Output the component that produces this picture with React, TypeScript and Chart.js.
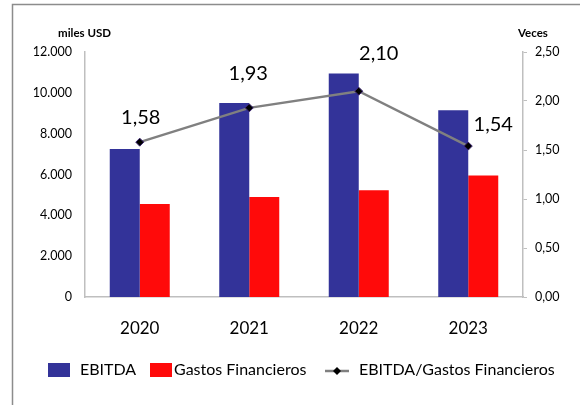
import React, { useEffect, useRef } from "react";
import { Chart, registerables } from "chart.js";
Chart.register(...registerables);

const years = ["2020", "2021", "2022", "2023"];
const ebitda = [7250, 9500, 10950, 9150];
const gastos = [4550, 4900, 5230, 5950];
const ratio = [1.58, 1.93, 2.1, 1.54];
const seriesNames = ["EBITDA", "Gastos Financieros", "EBITDA/Gastos Financieros"];
const leftTitle = "miles USD";
const rightTitle = "Veces";

const FONT = "Lato, 'Open Sans', sans-serif";
const BLUE = "#333399";
const RED = "#FF0A0A";
const GREY_LINE = "#808080";
const AXIS = "#BFBFBF";

const fmtLeft = (v: number) => String(v).replace(/\B(?=(\d{3})+(?!\d))/g, ".");
const fmtRight = (v: number) => v.toFixed(2).replace(".", ",");

const labelOffsets = [
  [1, -25],
  [-1, -34],
  [20, -38],
  [25, -22],
];

const decor = {
  id: "decor",
  beforeDraw(chart: any) {
    const ctx = chart.ctx;
    ctx.save();
    ctx.fillStyle = "#fff";
    ctx.fillRect(0, 0, chart.width, chart.height);
    ctx.strokeStyle = "#8c8c8c";
    ctx.lineWidth = 1.5;
    ctx.beginPath();
    ctx.moveTo(12.5, chart.height);
    ctx.lineTo(12.5, 4.5);
    ctx.lineTo(chart.width, 4.5);
    ctx.stroke();
    ctx.restore();
  },
  afterDatasetsDraw(chart: any) {
    const ctx = chart.ctx;
    const meta = chart.getDatasetMeta(0);
    ctx.save();
    ctx.fillStyle = "#000";
    ctx.font = `20px ${FONT}`;
    ctx.textAlign = "center";
    ctx.textBaseline = "middle";
    meta.data.forEach((pt: any, i: number) => {
      const [dx, dy] = labelOffsets[i];
      ctx.fillText(fmtRight(ratio[i]), pt.x + dx, pt.y + dy);
    });
    ctx.restore();
  },
  afterDraw(chart: any) {
    const ctx = chart.ctx;
    ctx.save();
    ctx.fillStyle = "#000";
    ctx.textBaseline = "middle";
    ctx.font = `bold 11.5px ${FONT}`;
    ctx.textAlign = "left";
    ctx.fillText(leftTitle, 58, 33);
    ctx.fillText(rightTitle, 518, 33);

    // legend
    const ly = 370;
    ctx.font = `16px ${FONT}`;
    ctx.fillStyle = BLUE;
    ctx.fillRect(48, ly - 7, 22, 14);
    ctx.fillStyle = "#000";
    ctx.fillText(seriesNames[0], 80, ly);
    ctx.fillStyle = RED;
    ctx.fillRect(150, ly - 7, 22, 14);
    ctx.fillStyle = "#000";
    ctx.fillText(seriesNames[1], 174, ly);
    ctx.strokeStyle = GREY_LINE;
    ctx.lineWidth = 2.5;
    ctx.beginPath();
    ctx.moveTo(325, ly + 1);
    ctx.lineTo(349, ly + 1);
    ctx.stroke();
    ctx.fillStyle = "#000";
    ctx.beginPath();
    ctx.moveTo(337, ly + 1 - 4);
    ctx.lineTo(341, ly + 1);
    ctx.lineTo(337, ly + 1 + 4);
    ctx.lineTo(333, ly + 1);
    ctx.closePath();
    ctx.fill();
    ctx.fillText(seriesNames[2], 359, ly);
    ctx.restore();
  },
};

export default function App() {
  const ref = useRef<HTMLCanvasElement>(null);
  useEffect(() => {
    if (!ref.current) return;
    const chart = new Chart(ref.current, {
      type: "bar",
      data: {
        labels: years,
        datasets: [
          {
            type: "line",
            label: seriesNames[2],
            data: ratio,
            yAxisID: "y1",
            borderColor: GREY_LINE,
            borderWidth: 2.5,
            pointStyle: "rectRot",
            pointRadius: 4,
            pointBackgroundColor: "#000",
            pointBorderColor: "#3a2470",
            pointBorderWidth: 1,
            order: 0,
          } as any,
          {
            label: seriesNames[0],
            data: ebitda,
            backgroundColor: BLUE,
            yAxisID: "y",
            categoryPercentage: 0.548,
            barPercentage: 1,
            order: 1,
          },
          {
            label: seriesNames[1],
            data: gastos,
            backgroundColor: RED,
            yAxisID: "y",
            categoryPercentage: 0.548,
            barPercentage: 1,
            order: 2,
          },
        ],
      },
      options: {
        animation: false,
        responsive: true,
        maintainAspectRatio: false,
        layout: { padding: { top: 52, left: 0, right: 0, bottom: 0 } },
        plugins: {
          legend: { display: false },
          tooltip: { enabled: false },
        },
        scales: {
          x: {
            grid: { display: false, drawTicks: false },
            border: { display: true, color: AXIS, width: 1.5 },
            ticks: { color: "#000", font: { family: FONT, size: 17 }, padding: 21 },
            afterFit: (s: any) => {
              s.height = 108;
            },
          },
          y: {
            position: "left",
            min: 0,
            max: 12000,
            grid: { display: false, drawTicks: false },
            border: { display: true, color: AXIS, width: 1.5 },
            ticks: {
              stepSize: 2000,
              color: "#000",
              font: { family: FONT, size: 12.5 },
              padding: 13,
              callback: (v: any) => fmtLeft(Number(v)),
            },
            afterFit: (s: any) => {
              s.width = 85;
            },
          },
          y1: {
            position: "right",
            min: 0,
            max: 2.5,
            grid: { display: true, drawOnChartArea: false, drawTicks: true, tickLength: 4, color: AXIS },
            border: { display: true, color: AXIS, width: 1.5 },
            ticks: {
              stepSize: 0.5,
              color: "#000",
              font: { family: FONT, size: 12.5 },
              padding: 8,
              callback: (v: any) => fmtRight(Number(v)),
            },
            afterFit: (s: any) => {
              s.width = 57;
            },
          },
        },
      },
      plugins: [decor],
    });
    return () => chart.destroy();
  }, []);
  return (
    <div style={{ position: "absolute", left: 0, top: 0, width: 580, height: 405, background: "#fff" }}>
      <canvas ref={ref} />
    </div>
  );
}
